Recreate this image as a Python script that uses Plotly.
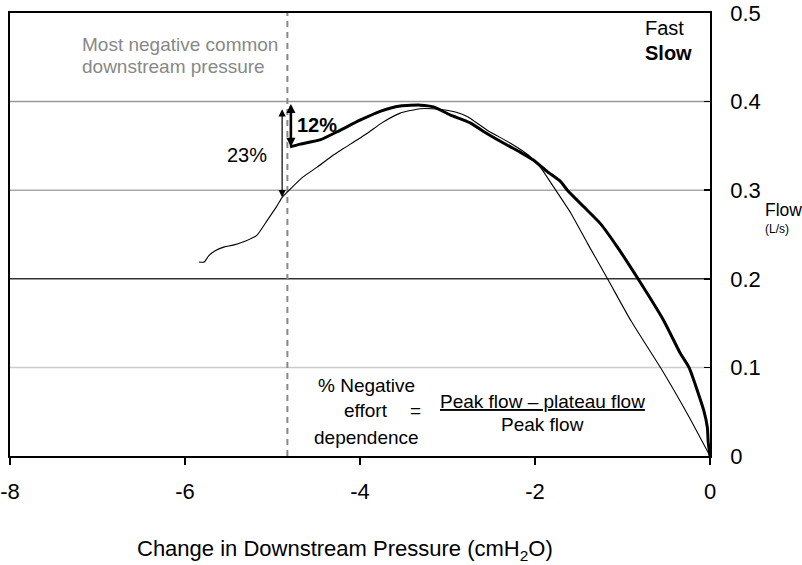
import plotly.graph_objects as go

# ---- data ----
fast_x = [-5.84, -5.78, -5.73, -5.65, -5.55, -5.45, -5.30, -5.18, -5.06, -4.95, -4.89, -4.80,
          -4.65, -4.49, -4.30, -4.19, -3.92, -3.75, -3.54, -3.31, -3.08, -2.90, -2.77, -2.55,
          -2.28, -2.08, -1.94, -1.79, -1.59, -1.40, -1.16, -0.90, -0.53, -0.25, 0.0]
fast_y = [0.219, 0.219, 0.226, 0.232, 0.236, 0.238, 0.243, 0.249, 0.266, 0.282, 0.292, 0.301,
          0.315, 0.326, 0.340, 0.347, 0.364, 0.376, 0.387, 0.392, 0.391, 0.388, 0.383, 0.368,
          0.353, 0.340, 0.326, 0.304, 0.274, 0.240, 0.198, 0.152, 0.094, 0.046, 0.0]

slow_x = [-4.80, -4.68, -4.45, -4.26, -4.00, -3.77, -3.54, -3.31, -3.16, -2.97, -2.74, -2.55,
          -2.32, -2.17, -2.02, -1.86, -1.71, -1.63, -1.44, -1.25, -1.06, -0.81, -0.53, -0.34,
          -0.24, -0.07, -0.03, -0.02, 0.0]
slow_y = [0.349, 0.352, 0.357, 0.366, 0.379, 0.389, 0.395, 0.396, 0.394, 0.385, 0.376, 0.364,
          0.351, 0.343, 0.334, 0.321, 0.310, 0.300, 0.281, 0.262, 0.236, 0.198, 0.153, 0.116,
          0.100, 0.051, 0.032, 0.015, 0.0]

x_ticks = [-8, -6, -4, -2, 0]
x_tick_labels = ["-8", "-6", "-4", "-2", "0"]
y_ticks = [0, 0.1, 0.2, 0.3, 0.4, 0.5]
y_tick_labels = ["0", "0.1", "0.2", "0.3", "0.4", "0.5"]

grid_levels = [0.1, 0.2, 0.3, 0.4]
grid_colors = ["#cccccc", "#333333", "#aaaaaa", "#999999"]

common_pressure_x = -4.83
arrow_23 = {"x": -4.89, "top": 0.393, "bottom": 0.292}
arrow_12 = {"x": -4.79, "top": 0.399, "bottom": 0.349}

FONT = "Arial, Liberation Sans, Helvetica, sans-serif"

fig = go.Figure()
fig.add_trace(go.Scatter(x=fast_x, y=fast_y, mode="lines", name="Fast",
                         line=dict(color="black", width=1.1, shape="spline", smoothing=0.5),
                         showlegend=False, hoverinfo="skip"))
fig.add_trace(go.Scatter(x=slow_x, y=slow_y, mode="lines", name="Slow",
                         line=dict(color="black", width=3, shape="spline", smoothing=0.5),
                         showlegend=False, hoverinfo="skip"))

shapes = []
for lvl, col in zip(grid_levels, grid_colors):
    shapes.append(dict(type="line", xref="paper", x0=0, x1=1, yref="y", y0=lvl, y1=lvl,
                       line=dict(color=col, width=1.5), layer="below"))
shapes.append(dict(type="line", xref="x", x0=common_pressure_x, x1=common_pressure_x,
                   yref="paper", y0=0, y1=1,
                   line=dict(color="#888888", width=2, dash="6px,5px"), layer="below"))

ann = []
ann.append(dict(x=-7.2, y=0.4515 + 0.0124, xref="x", yref="y", text="Most negative common",
                showarrow=False, xanchor="left", font=dict(size=19, color="#888888", family=FONT)))
ann.append(dict(x=-7.2, y=0.4515 - 0.0124, xref="x", yref="y", text="downstream pressure",
                showarrow=False, xanchor="left", font=dict(size=19, color="#888888", family=FONT)))
ann.append(dict(x=-0.766, y=0.483, xref="x", yref="y", text="Fast", showarrow=False,
                xanchor="left", font=dict(size=20, color="black", family=FONT)))
ann.append(dict(x=-0.766, y=0.455, xref="x", yref="y", text="<b>Slow</b>", showarrow=False,
                xanchor="left", font=dict(size=20, color="black", family=FONT)))
# arrows
ann.append(dict(x=arrow_23["x"], y=arrow_23["bottom"], ax=arrow_23["x"], ay=arrow_23["top"],
                xref="x", yref="y", axref="x", ayref="y", text="", showarrow=True,
                arrowhead=2, startarrowhead=2, arrowside="end+start", arrowsize=1.2,
                startarrowsize=1.2, arrowwidth=1.2, arrowcolor="black"))
ann.append(dict(x=arrow_12["x"], y=arrow_12["bottom"], ax=arrow_12["x"], ay=arrow_12["top"],
                xref="x", yref="y", axref="x", ayref="y", text="", showarrow=True,
                arrowhead=2, startarrowhead=2, arrowside="end+start", arrowsize=0.7,
                startarrowsize=0.7, arrowwidth=2.6, arrowcolor="black"))
ann.append(dict(x=-5.29, y=0.340, xref="x", yref="y", text="23%", showarrow=False,
                font=dict(size=20, color="black", family=FONT)))
ann.append(dict(x=-4.49, y=0.3736, xref="x", yref="y", text="<b>12%</b>", showarrow=False,
                font=dict(size=20, color="black", family=FONT)))
# formula
for txt, yy in [("% Negative", 0.080), ("effort", 0.0508), ("dependence", 0.0214)]:
    ann.append(dict(x=-3.93, y=yy, xref="x", yref="y", text=txt, showarrow=False,
                    font=dict(size=19, color="black", family=FONT)))
ann.append(dict(x=-3.37, y=0.0508, xref="x", yref="y", text="=", showarrow=False,
                font=dict(size=19, color="black", family=FONT)))
ann.append(dict(x=-1.92, y=0.061, xref="x", yref="y", text="<u>Peak flow – plateau flow</u>",
                showarrow=False, font=dict(size=19, color="black", family=FONT)))
ann.append(dict(x=-1.92, y=0.035, xref="x", yref="y", text="Peak flow", showarrow=False,
                font=dict(size=19, color="black", family=FONT)))
# axis titles
ann.append(dict(x=0.479, y=-0.212, xref="paper", yref="paper", xanchor="center", yanchor="middle",
                text="Change in Downstream Pressure (cmH<sub>2</sub>O)", showarrow=False,
                font=dict(size=22, color="black", family=FONT)))
ann.append(dict(x=1.075, y=0.556, xref="paper", yref="paper", text="Flow", showarrow=False,
                xanchor="left", yanchor="middle", font=dict(size=17.5, color="black", family=FONT)))
ann.append(dict(x=1.075, y=0.512, xref="paper", yref="paper", text="(L/s)", showarrow=False,
                xanchor="left", yanchor="middle", font=dict(size=12, color="black", family=FONT)))

fig.update_layout(
    width=802, height=565,
    margin=dict(l=10, r=92, t=13, b=109, autoexpand=False),
    paper_bgcolor="white", plot_bgcolor="white",
    font=dict(family=FONT, size=22, color="black"),
    shapes=shapes, annotations=ann,
    hovermode=False,
    xaxis=dict(range=[-8, 0], tickvals=x_ticks, ticktext=x_tick_labels,
               ticks="outside", ticklen=7, tickwidth=1.5, tickcolor="black",
               showline=True, linecolor="black", linewidth=1.8, mirror=True,
               showgrid=False, zeroline=False, ticklabelstandoff=8, automargin=False,
               ticklabeloverflow="allow", tickfont=dict(size=22, family=FONT)),
    yaxis=dict(range=[0, 0.5], side="right", tickvals=y_ticks, ticktext=y_tick_labels,
               ticks="inside", ticklen=6, tickwidth=1.5, tickcolor="black",
               showline=True, linecolor="black", linewidth=1.8, mirror=True,
               showgrid=False, zeroline=False, ticklabelstandoff=14, automargin=False,
               ticklabeloverflow="allow", tickfont=dict(size=22, family=FONT)),
)

# remove the default 8px page margin so the figure sits at the window's corner
fig.write_html("out.html", config={"displayModeBar": False, "staticPlot": True},
               post_script="document.body.style.margin='0';document.body.style.overflow='hidden';")
